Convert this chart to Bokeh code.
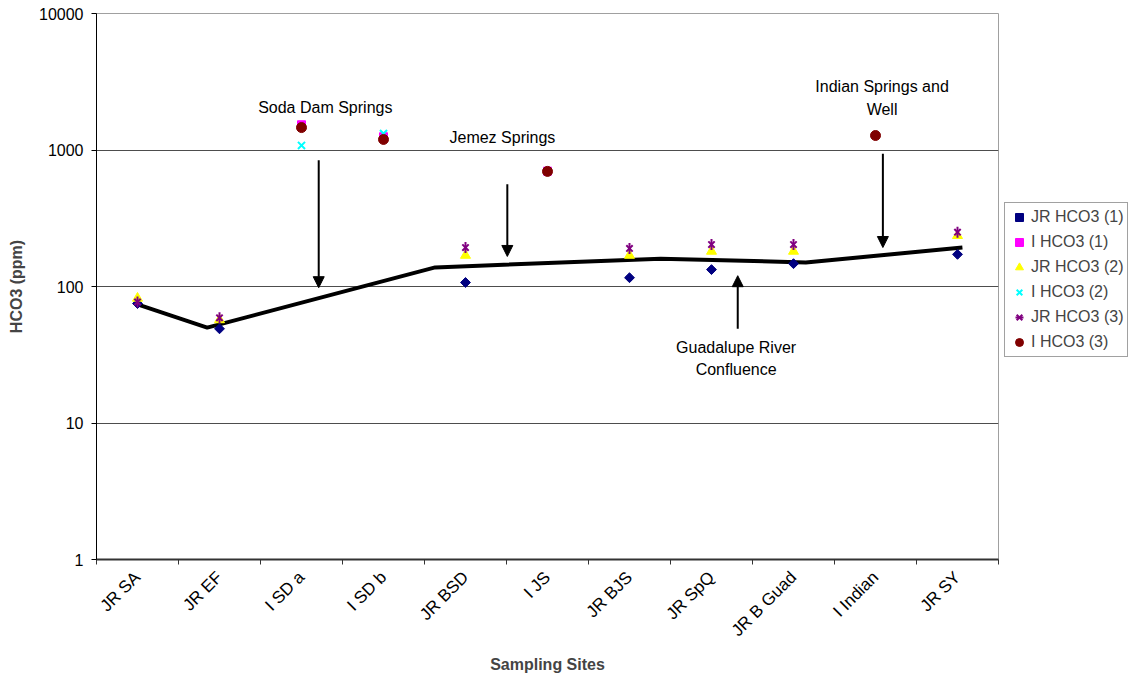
import math
from bokeh.plotting import figure
from bokeh.layouts import row
from bokeh.models import (Range1d, FixedTicker, NumeralTickFormatter, Legend, LegendItem,
                          Arrow, NormalHead, ColumnDataSource)
from bokeh.core.properties import value
from bokeh.embed import file_html
from bokeh.resources import INLINE

nan = float("nan")

# ---- data -------------------------------------------------------------
sites = ["JR SA", "JR EF", "I SD a", "I SD b", "JR BSD", "I JS", "JR BJS",
         "JR SpQ", "JR B Guad", "I Indian", "JR SY"]
jr_hco3_1 = [75, 49, nan, nan, 107, nan, 116, 133, 147, nan, 172]
i_hco3_1 = [nan, nan, 1530, 1250, nan, 700, nan, nan, nan, nan, nan]
jr_hco3_2 = [82, 57, nan, nan, 169, nan, 169, 181, 181, nan, 236]
i_hco3_2 = [nan, nan, 1080, 1320, nan, 700, nan, nan, nan, nan, nan]
jr_hco3_3 = [77, 59, nan, nan, 193, nan, 190, 203, 203, nan, 250]
i_hco3_3 = [nan, nan, 1460, 1195, nan, 697, nan, nan, nan, 1277, nan]

# trend line (position in site units, HCO3 ppm)
trend_pos = [0.5, 1.35, 4.13, 6.88, 8.65, 10.56]
trend_val = [74, 50, 138, 160, 150, 193]

# annotations
ann_text = ["Soda Dam Springs", "Jemez Springs", "Indian Springs and\nWell",
            "Guadalupe River\nConfluence"]
ann_pos = [2.79, 4.95, 9.58, 7.80]
ann_val = [2047, 1235, 2405, 29.9]

arrow_pos = [2.71, 5.01, 9.59, 7.82]
arrow_from = [840, 560, 940, 49]
arrow_to = [98, 166, 193, 120]

y_ticks = [1, 10, 100, 1000, 10000]

series_labels = ["JR HCO3 (1)", "I HCO3 (1)", "JR HCO3 (2)", "I HCO3 (2)",
                 "JR HCO3 (3)", "I HCO3 (3)"]

# ---- styles -----------------------------------------------------------
FONT = "Liberation Sans"
styles = [
    [dict(marker="square", angle=math.pi / 4, size=7, fill_color="#000080", line_color="#000080")],
    [dict(marker="square", size=8, fill_color="#FF00FF", line_color="#FF00FF")],
    [dict(marker="triangle", size=10, fill_color="#FFFF00", line_color="#FFFF00")],
    [dict(marker="x", size=10, line_color="#00FFFF", line_width=2)],
    [dict(marker="x", size=9, line_color="#800080", line_width=2),
     dict(marker="dash", angle=math.pi / 2, size=11, line_color="#800080", line_width=2)],
    [dict(marker="circle", size=10, fill_color="#800000", line_color="#800000")],
]
series = [jr_hco3_1, i_hco3_1, jr_hco3_2, i_hco3_2, jr_hco3_3, i_hco3_3]

n = len(sites)
x = [i + 0.5 for i in range(n)]

H = 676
p = figure(width=1000, height=H, y_axis_type="log",
           x_range=Range1d(0, n), y_range=Range1d(1, 10000),
           output_backend="svg", toolbar_location=None,
           min_border_left=96, min_border_right=2, min_border_top=13,
           min_border_bottom=H - 559)
p.background_fill_color = "white"
p.border_fill_color = "white"
p.outline_line_color = "#a0a0a0"
p.outline_line_width = 1

# grid
p.xgrid.visible = False
p.ygrid.ticker = FixedTicker(ticks=y_ticks)
p.ygrid.grid_line_color = "#4d4d4d"
p.ygrid.grid_line_width = 1

# y axis
ya = p.yaxis[0]
ya.ticker = FixedTicker(ticks=y_ticks)
ya.formatter = NumeralTickFormatter(format="0")
ya.minor_tick_line_color = None
ya.major_tick_in = 0
ya.major_tick_out = 5
ya.axis_line_color = "black"
ya.major_tick_line_color = "black"
ya.major_label_text_font = FONT
ya.major_label_text_font_size = "16px"
ya.major_label_text_color = "black"
ya.major_label_standoff = 8
ya.axis_label = "HCO3 (ppm)"
ya.axis_label_text_font = FONT
ya.axis_label_text_font_style = "bold"
ya.axis_label_text_font_size = "16px"
ya.axis_label_standoff = 11

# x axis
xa = p.xaxis[0]
xa.ticker = FixedTicker(ticks=x, minor_ticks=list(range(n + 1)))
xa.major_label_overrides = {xi: s for xi, s in zip(x, sites)}
xa.major_label_orientation = math.pi / 4
xa.major_tick_in = 0
xa.major_tick_out = 5
xa.major_tick_line_color = None
xa.minor_tick_in = 0
xa.minor_tick_out = 5
xa.minor_tick_line_color = "#333333"
xa.axis_line_color = "#333333"
xa.axis_line_width = 2
xa.major_label_text_font = FONT
xa.major_label_text_font_size = "17px"
xa.major_label_text_color = "black"
xa.major_label_standoff = 10
xa.axis_label = "Sampling Sites"
xa.axis_label_text_font = FONT
xa.axis_label_text_font_style = "bold"
xa.axis_label_text_font_size = "16px"
xa.axis_label_standoff = 6

# trend line
p.line(trend_pos, trend_val, line_color="black", line_width=4)

# series
for ys, st in zip(series, styles):
    for s in st:
        p.scatter(x, ys, **s)

# annotation texts
p.text(ann_pos, ann_val, text=ann_text, text_align="center", text_baseline="middle",
       text_font=value(FONT), text_font_size="16px", text_color="black",
       text_line_height=1.3)

# arrows
asrc = ColumnDataSource(dict(x0=arrow_pos, y0=arrow_from, x1=arrow_pos, y1=arrow_to))
p.add_layout(Arrow(source=asrc, x_start="x0", y_start="y0", x_end="x1", y_end="y1",
                   line_color="black", line_width=2,
                   end=NormalHead(size=11, fill_color="black", line_color="black")))

# ---- legend panel (proxy renderers, data lies outside this panel's range) ----
pl = figure(width=128, height=H, x_range=Range1d(0, 1), y_range=Range1d(0, 1),
            output_backend="svg", toolbar_location=None, min_border=0)
pl.axis.visible = False
pl.grid.visible = False
pl.outline_line_color = None
pl.background_fill_color = "white"
pl.border_fill_color = "white"

items = []
for lab, ys, st in zip(series_labels, series, styles):
    rs = [pl.scatter(x, ys, **s) for s in st]
    items.append(LegendItem(label=lab, renderers=rs))

legend = Legend(items=items, location=(4, 202))
legend.label_text_font = FONT
legend.label_text_font_size = "16px"
legend.glyph_width = 20
legend.glyph_height = 20
legend.label_standoff = 2
legend.label_height = 20
legend.spacing = 5
legend.padding = 4
legend.margin = 0
legend.border_line_color = "#444444"
legend.border_line_width = 1
legend.background_fill_color = "white"
legend.background_fill_alpha = 1
pl.add_layout(legend)

layout = row(p, pl)
open("out.html", "w").write(file_html(layout, INLINE))
